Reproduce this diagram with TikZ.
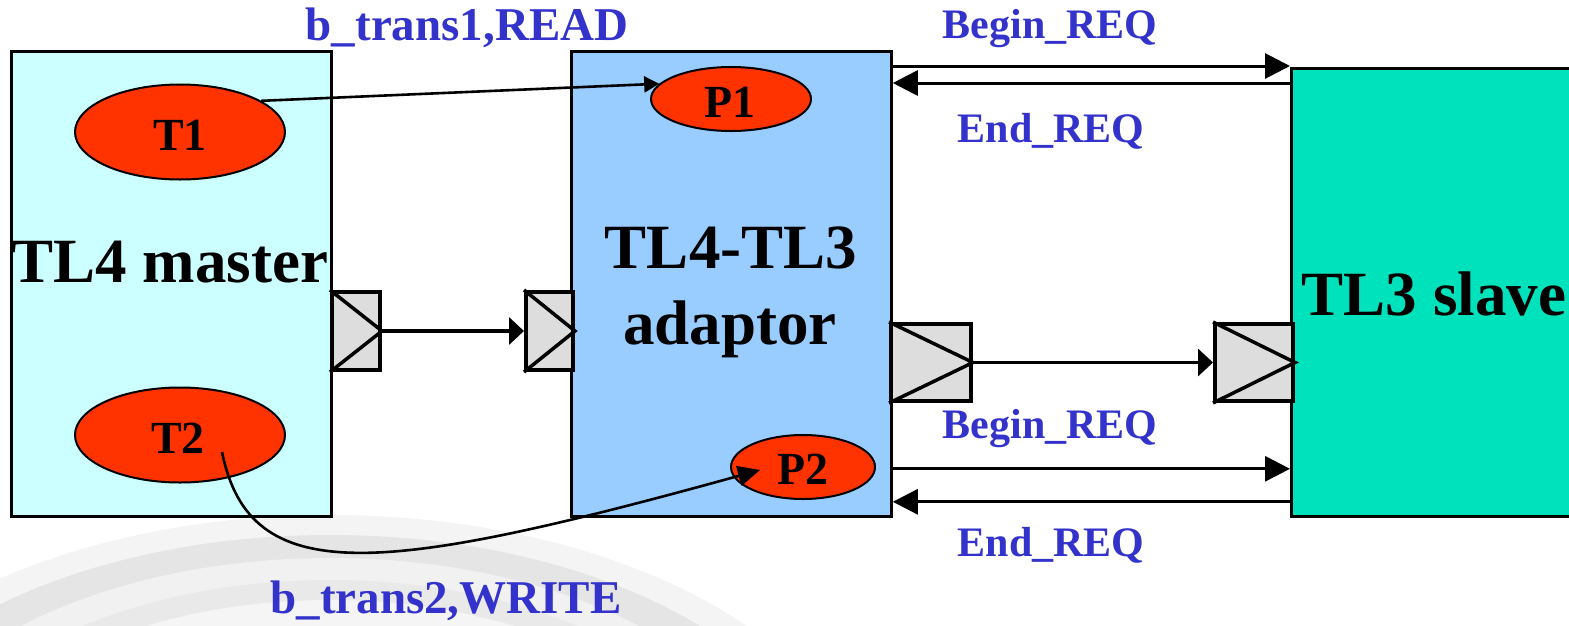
\documentclass[tikz,border=0pt]{standalone}
\usepackage{fontspec}
\setmainfont{Liberation Serif}
\usetikzlibrary{arrows.meta,shapes.geometric}
\definecolor{masterfill}{HTML}{CCFFFF}
\definecolor{adaptfill}{HTML}{99CCFF}
\definecolor{slavefill}{HTML}{00E2BC}
\definecolor{tokfill}{HTML}{FF3300}
\definecolor{portfill}{HTML}{DDDDDD}
\definecolor{lblue}{HTML}{3333CC}
\begin{document}
\begin{tikzpicture}[x=1pt,y=-1pt,
  block/.style={draw=black,line width=2.8pt,rectangle,inner sep=0pt,anchor=north west},
  tok/.style={draw=black,line width=2pt,ellipse,fill=tokfill,inner sep=0pt},
  porto/.style={draw=black,line width=4pt,rectangle,fill=portfill,inner sep=0pt,anchor=north west},
  big/.style={font=\bfseries\fontsize{63}{70}\selectfont,anchor=base,inner sep=0pt},
  toktxt/.style={font=\bfseries\fontsize{46}{50}\selectfont,anchor=base,inner sep=0pt},
  lbl/.style={font=\bfseries\fontsize{42}{46}\selectfont,text=lblue,anchor=base,inner sep=0pt},
  lblb/.style={font=\bfseries\fontsize{47}{50}\selectfont,text=lblue,anchor=base,inner sep=0pt},
  sig/.style={line width=3pt,-{Triangle[length=25pt,width=25pt]}},
  portarrow/.style={line width=3.5pt,-{Triangle[length=15pt,width=27pt]}},
  trans/.style={line width=2.6pt}
]
\useasboundingbox (0,0) rectangle (1569,625);
\clip (0,0) rectangle (1569,625);
% background swoosh
\fill[gray!9] (330,820) ellipse [x radius=540, y radius=305];
\fill[gray!20] (330,820) ellipse [x radius=505, y radius=285];
\fill[gray!11] (330,820) ellipse [x radius=460, y radius=262];
\fill[gray!17] (330,820) ellipse [x radius=420, y radius=240];
\fill[gray!8] (330,820) ellipse [x radius=390, y radius=220];
% blocks
\node[block,fill=masterfill,minimum width=320pt,minimum height=465pt] (master) at (10,50) {};
\node[block,fill=adaptfill,minimum width=320pt,minimum height=465pt] (adaptor) at (570,50) {};
\node[block,fill=slavefill,minimum width=300pt,minimum height=448pt] (slave) at (1290,67) {};
% ports
\node[porto,minimum width=48pt,minimum height=78pt] (mout) at (330,290) {};
\node[porto,minimum width=47pt,minimum height=78pt] (ain) at (524,290) {};
\node[porto,minimum width=80pt,minimum height=77pt] (aout) at (889,322) {};
\node[porto,minimum width=78pt,minimum height=77pt] (sin) at (1213,322) {};
\foreach \p in {mout,ain,aout,sin}{
  \draw[line width=3.5pt] (\p.north west) -- (\p.east) -- (\p.south west);
}
% tokens
\node[tok,minimum width=210pt,minimum height=95pt] (T1) at (180,132) {};
\node[tok,minimum width=210pt,minimum height=95pt] (T2) at (180,435) {};
\node[tok,minimum width=160pt,minimum height=64pt] (P1) at (731,99) {};
\node[tok,minimum width=144pt,minimum height=64pt] (P2) at (803,467) {};
% texts
\node[big] (tmaster) at (170,282) {TL4 master};
\node[big] (tadapt1) at (731,268) {TL4-TL3};
\node[big] (tadapt2) at (730,344) {adaptor};
\node[big] (tslave) at (1434,315) {TL3 slave};
\node[toktxt] (tT1) at (180,150) {T1};
\node[toktxt] (tT2) at (178,453) {T2};
\node[toktxt] (tP1) at (730,117) {P1};
\node[toktxt] (tP2) at (803,484) {P2};
% labels
\node[lblb] (l1) at (467,40) {b\_trans1,READ};
\node[lblb] (l2) at (446,613) {b\_trans2,WRITE};
\node[lbl] (l3) at (1050,38) {Begin\_REQ};
\node[lbl] (l4) at (1051,142) {End\_REQ};
\node[lbl] (l5) at (1050,438) {Begin\_REQ};
\node[lbl] (l6) at (1051,556) {End\_REQ};
% signal arrows
\draw[sig] ([yshift=-16pt]adaptor.north east) -- ([yshift=-16pt]adaptor.north east -| slave.west);
\draw[sig] ([yshift=-33pt]adaptor.north east -| slave.west) -- ([yshift=-33pt]adaptor.north east);
\draw[sig] ([yshift=49pt]adaptor.south east) -- ([yshift=49pt]adaptor.south east -| slave.west);
\draw[sig] ([yshift=16pt]adaptor.south east -| slave.west) -- ([yshift=16pt]adaptor.south east);
% port arrows
\draw[portarrow] (mout.east) -- (ain.west);
\draw[portarrow] (aout.east) -- (sin.west);
% transactions
\draw[trans,-{Triangle[length=15pt,width=16pt]}] (T1.21) -- (P1.168);
\draw[trans,-{Triangle[length=22pt,width=20pt]}] ([xshift=42pt,yshift=-17pt]T2.center)
  .. controls +(28,138) and +(-380,105) .. ([xshift=-43pt,yshift=-3pt]P2.center);
\end{tikzpicture}
\end{document}
